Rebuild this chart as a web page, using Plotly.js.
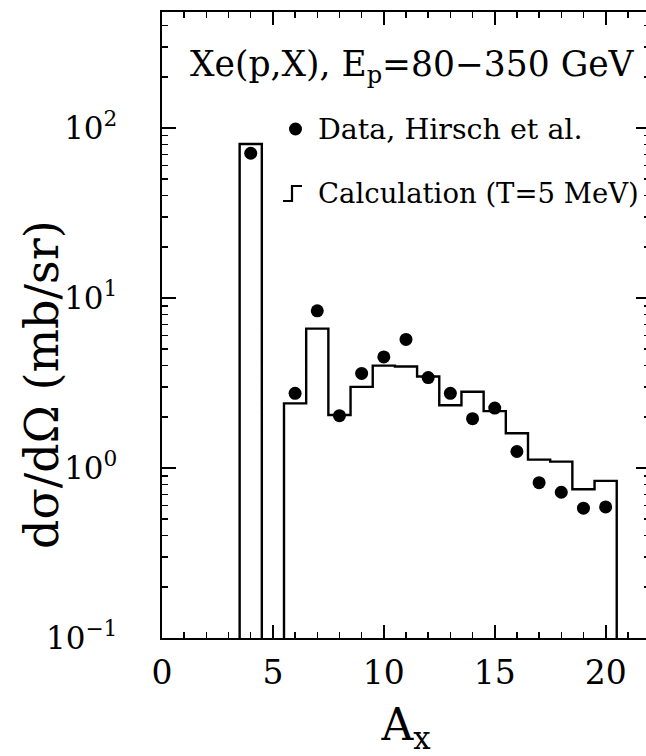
<!DOCTYPE html>
<html><head><meta charset="utf-8">
<script src="https://cdn.plot.ly/plotly-3.0.1.min.js"></script>
<style>html,body{margin:0;padding:0;overflow:hidden;background:#fff}#plot{width:652px;height:756px}</style>
</head><body><div id="plot"></div><script>
// Measured data points (Hirsch et al.)
const dataA   = [4, 6, 7, 8, 9, 10, 11, 12, 13, 14, 15, 16, 17, 18, 19, 20];
const dataVal = [71, 2.75, 8.4, 2.03, 3.6, 4.5, 5.7, 3.4, 2.75, 1.95, 2.25, 1.25, 0.82, 0.72, 0.58, 0.59];
// Calculation histogram (T = 5 MeV), one bin per mass number
const calcA   = [4, 5, 6, 7, 8, 9, 10, 11, 12, 13, 14, 15, 16, 17, 18, 19, 20];
const calcVal = [80.5, 0, 2.4, 6.6, 2.05, 3.0, 4.0, 3.95, 3.45, 2.34, 2.81, 2.16, 1.6, 1.12, 1.09, 0.75, 0.84];
// Axis tick labels
const yTickVals = [0.1, 1, 10, 100];
const yTickText = ['10<sup>\u22121</sup>', '10<sup>0</sup>', '10<sup>1</sup>', '10<sup>2</sup>'];
const xTickVals = [0, 5, 10, 15, 20];
const xTickText = ['0', '5', '10', '15', '20'];

const FLOOR = 1e-3;
const hx = [], hy = [];
hx.push(calcA[0] - 0.5); hy.push(FLOOR);
for (let i = 0; i < calcA.length; i++) {
  const v = calcVal[i] > 0 ? calcVal[i] : FLOOR;
  hx.push(calcA[i] - 0.5, calcA[i] + 0.5); hy.push(v, v);
}
hx.push(calcA[calcA.length - 1] + 0.5); hy.push(FLOOR);

const minorY = [];
for (let d = -1; d <= 2; d++) for (let k = 2; k <= 9; k++) { const v = k * Math.pow(10, d); if (v < 480) minorY.push(v); }

const serif = 'DejaVu Serif, serif';

const traces = [
  {x: hx, y: hy, type: 'scatter', mode: 'lines', line: {color: '#000', width: 2.4}, hoverinfo: 'skip', showlegend: false},
  {x: dataA, y: dataVal, type: 'scatter', mode: 'markers', marker: {color: '#000', size: 13, symbol: 'circle'}, showlegend: false}
];

const px = v => (v - 162) / 488, py = v => (638 - v) / 626;

const layout = {
  width: 652, height: 756,
  margin: {l: 162, r: 2, t: 12, b: 118},
  paper_bgcolor: '#fff', plot_bgcolor: '#fff',
  showlegend: false,
  font: {family: serif, color: '#000'},
  xaxis: {
    range: [0, 22], showgrid: false, zeroline: false,
    showline: true, linecolor: '#000', linewidth: 2.4, mirror: 'allticks',
    ticks: 'inside', ticklen: 13, tickwidth: 2, tickcolor: '#000',
    tickvals: xTickVals, ticktext: xTickText,
    minor: {ticks: 'inside', dtick: 1, ticklen: 6, tickwidth: 1.5, tickcolor: '#000'},
    tickfont: {family: serif, size: 33, color: '#000'}, ticklabelstandoff: 4,
    title: {text: 'A<sub>x</sub>', font: {family: serif, size: 44, color: '#000'}, standoff: 35}
  },
  yaxis: {
    type: 'log', range: [-1, 2.682], showgrid: false, zeroline: false,
    showline: true, linecolor: '#000', linewidth: 2.4, mirror: 'allticks',
    ticks: 'inside', ticklen: 14, tickwidth: 2, tickcolor: '#000',
    tickvals: yTickVals, ticktext: yTickText,
    minor: {ticks: 'inside', tickvals: minorY, ticklen: 6, tickwidth: 1.5, tickcolor: '#000'},
    tickfont: {family: serif, size: 31, color: '#000'}, ticklabelstandoff: 36,
    title: {text: ''}
  },
  annotations: [
    {xref: 'paper', yref: 'paper', x: px(42), y: py(385), xanchor: 'center', yanchor: 'middle', showarrow: false, textangle: -90,
     text: 'd\u03c3/d\u03a9 (mb/sr)', font: {family: serif, size: 46, color: '#000'}},
    {xref: 'paper', yref: 'paper', x: px(188), y: py(67), xanchor: 'left', yanchor: 'middle', showarrow: false,
     text: 'Xe(p,X), E<sub>p</sub>=80\u2212350 GeV', font: {family: serif, size: 34.5, color: '#000'}},
    {xref: 'paper', yref: 'paper', x: px(316), y: py(129), xanchor: 'left', yanchor: 'middle', showarrow: false,
     text: 'Data, Hirsch et al.', font: {family: serif, size: 28.5, color: '#000'}},
    {xref: 'paper', yref: 'paper', x: px(316), y: py(193), xanchor: 'left', yanchor: 'middle', showarrow: false,
     text: 'Calculation (T=5 MeV)', font: {family: serif, size: 27.5, color: '#000'}}
  ],
  shapes: [
    {type: 'circle', xref: 'paper', yref: 'paper', x0: px(289), x1: px(302), y0: py(122.5), y1: py(135.5), fillcolor: '#000', line: {width: 0}},
    {type: 'path', xref: 'paper', yref: 'paper',
     path: `M ${px(283)} ${py(201)} L ${px(292)} ${py(201)} L ${px(292)} ${py(186)} L ${px(302)} ${py(186)}`,
     line: {color: '#000', width: 2.2}}
  ]
};

Plotly.newPlot('plot', traces, layout, {displayModeBar: false, staticPlot: true});
</script></body></html>
